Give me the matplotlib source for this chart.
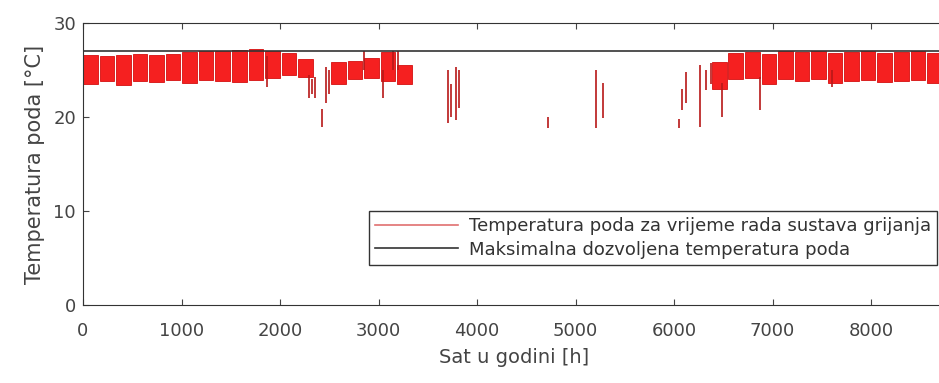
import numpy as np
import matplotlib.pyplot as plt

# weekly envelope of the floor temperature while heating runs (NaN = no heating)
week_start = np.arange(0, 8760, 168)
week_lo = [23.5, 23.8, 23.4, 23.8, 23.7, 23.9, 23.6, 23.9, 23.8, 23.7, 23.9, 24.2, 24.5, 24.3,
           np.nan, 23.5, 24.0, 24.2, 23.8, 23.5,
           np.nan, np.nan, np.nan, np.nan, np.nan, np.nan, np.nan, np.nan, np.nan, np.nan,
           np.nan, np.nan, np.nan, np.nan, np.nan, np.nan, np.nan, np.nan,
           23.0, 24.0, 24.2, 23.5, 24.0, 23.8, 24.0, 23.6, 23.8, 23.9, 23.7, 23.8, 23.9, 23.6, 23.8]
week_hi = [26.6, 26.5, 26.6, 26.7, 26.6, 26.7, 26.9, 27.0, 27.0, 27.1, 27.2, 27.0, 26.8, 26.2,
           np.nan, 25.9, 26.0, 26.3, 26.9, 25.5,
           np.nan, np.nan, np.nan, np.nan, np.nan, np.nan, np.nan, np.nan, np.nan, np.nan,
           np.nan, np.nan, np.nan, np.nan, np.nan, np.nan, np.nan, np.nan,
           25.8, 26.8, 26.9, 26.7, 27.0, 26.9, 27.0, 26.8, 26.9, 27.0, 26.8, 26.9, 27.0, 26.8, 26.9]

# isolated heating spells (hour, min, max)
spell_h = [0, 1870, 2290, 2320, 2350, 2430, 2470, 2500, 2850, 3050, 3150, 3200,
           3700, 3740, 3790, 3820, 4720, 5210, 5280, 6050, 6080, 6120, 6260,
           6320, 6370, 6490, 6870, 7600]
spell_lo = [20.5, 23.2, 22.0, 22.5, 22.0, 18.9, 21.5, 22.5, 25.0, 22.0, 25.0, 25.0,
            19.4, 20.0, 19.7, 21.0, 18.8, 18.8, 19.9, 18.8, 20.7, 21.5, 18.9,
            22.9, 23.5, 20.0, 20.7, 23.2]
spell_hi = [26.5, 26.5, 24.5, 24.0, 24.3, 20.8, 25.3, 25.0, 27.0, 25.0, 27.0, 27.0,
            25.0, 23.5, 25.3, 25.0, 20.0, 25.0, 23.6, 19.8, 23.0, 24.8, 25.5,
            25.0, 25.7, 23.6, 24.3, 25.0]

t_max = 27

plt.rcParams['font.family'] = ['DejaVu Sans']
fig = plt.figure(figsize=(9.39, 3.83), dpi=100)
ax = fig.add_axes([83/939, 78/383, 863/939, 282/383])

lo = np.array(week_lo)
hi = np.array(week_hi)
ax.bar(week_start, hi - lo, bottom=lo, width=148, align='edge', color='#f52020', edgecolor='#d41010', linewidth=0.6)
ax.vlines(spell_h, spell_lo, spell_hi, color='#b81818', linewidth=1.2)

ax.plot([], [], color='#e07070', linewidth=1.2, label='Temperatura poda za vrijeme rada sustava grijanja')
ax.axhline(t_max, color='#333333', linewidth=1.2, label='Maksimalna dozvoljena temperatura poda')

ax.set_xlim(0, 8760)
ax.set_ylim(0, 30)
ax.set_xticks(range(0, 9000, 1000))
ax.set_yticks([0, 10, 20, 30])
ax.tick_params(direction='in', top=True, right=True, labelsize=13, colors='#444444', length=4)
ax.tick_params(axis='x', pad=12)
ax.tick_params(axis='y', pad=5)
for s in ax.spines.values():
    s.set_color('#333333')
ax.set_xlabel('Sat u godini [h]', fontsize=14, color='#444444', labelpad=6)
ax.set_ylabel('Temperatura poda [°C]', fontsize=15, color='#444444', labelpad=6)

leg = ax.legend(loc='lower right', bbox_to_anchor=(0.99, 0.142), fontsize=13, handlelength=4.6,
                fancybox=False, framealpha=1, edgecolor='#333333', borderpad=0.35, labelspacing=0.3,
                handletextpad=0.6, borderaxespad=0)
leg.get_frame().set_linewidth(1.0)
for t in leg.get_texts():
    t.set_color('#333333')

fig.savefig('out.png', dpi=100)
